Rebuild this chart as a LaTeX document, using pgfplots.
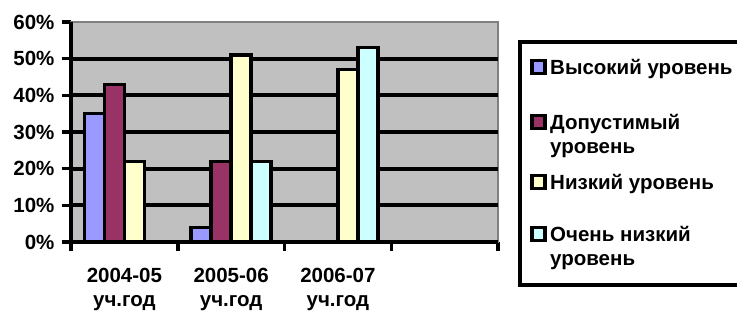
\documentclass[border=0pt]{standalone}
\usepackage{fontspec}
\setmainfont{Liberation Sans}
\usepackage{pgfplots}
\pgfplotsset{compat=1.18}
\definecolor{cHigh}{HTML}{9999FF}
\definecolor{cMid}{HTML}{993366}
\definecolor{cLow}{HTML}{FFFFCC}
\definecolor{cVLow}{HTML}{CCFFFF}
\definecolor{bg}{HTML}{C0C0C0}
\definecolor{brd}{HTML}{808080}
\newcommand{\lf}{\fontsize{20.5bp}{24bp}\selectfont\bfseries}
\begin{document}
\begin{tikzpicture}[x=1bp,y=1bp]
\useasboundingbox (0,0) rectangle (737,315);
\begin{axis}[
  at={(71bp,73bp)}, anchor=south west,
  scale only axis, width=427bp, height=220bp,
  xmin=-0.5, xmax=3.5, ymin=0, ymax=60,
  ybar=0pt, bar width=20bp,
  axis background/.style={fill=bg},
  axis line style={draw=brd, line width=2bp},
  tick align=outside, tick pos=left,
  major tick length=9bp,
  tick style={black, line width=3.5bp},
  xtick={-0.5,0.5,1.5,2.5,3.5}, xticklabels={},
  extra x ticks={0,1,2},
  extra x tick labels={2004-05\\уч.год,2005-06\\уч.год,2006-07\\уч.год},
  extra x tick style={major tick length=0pt, xticklabel style={align=center, font=\lf, yshift=-23bp}},
  ytick={0,10,...,60},
  yticklabels={0\%,10\%,20\%,30\%,40\%,50\%,60\%},
  yticklabel style={font=\lf, xshift=-4bp},
  extra y ticks={10,20,30,40,50}, extra y tick labels={},
  extra y tick style={grid=major, major grid style={black, line width=4bp}},
  every axis plot/.append style={draw=black, line width=3.5bp},
  clip=false,
]
\addplot[fill=cHigh] coordinates {(0,35) (1,4)};
\addplot[fill=cMid] coordinates {(0,43) (1,22)};
\addplot[fill=cLow] coordinates {(0,22) (1,51) (2,47)};
\addplot[fill=cVLow] coordinates {(1,22) (2,53)};
\draw[black, line width=4.5bp] (rel axis cs:0,1) -- (rel axis cs:0,0) -- (rel axis cs:1,0);
\end{axis}
% legend
\draw[line width=3.5bp] (520,30) rectangle (770,273);
\foreach \c/\y in {cHigh/248, cMid/193, cLow/133, cVLow/81}{
  \draw[line width=3.5bp, fill=\c] (532,\y-6.5) rectangle (545,\y+6.5);
}
\node[anchor=base west, inner sep=0pt, font=\lf] at (550,241) {Высокий уровень};
\node[anchor=base west, inner sep=0pt, font=\lf] at (550,186) {Допустимый};
\node[anchor=base west, inner sep=0pt, font=\lf] at (550,162) {уровень};
\node[anchor=base west, inner sep=0pt, font=\lf] at (550,126) {Низкий уровень};
\node[anchor=base west, inner sep=0pt, font=\lf] at (550,74) {Очень низкий};
\node[anchor=base west, inner sep=0pt, font=\lf] at (550,50) {уровень};
\end{tikzpicture}
\end{document}
